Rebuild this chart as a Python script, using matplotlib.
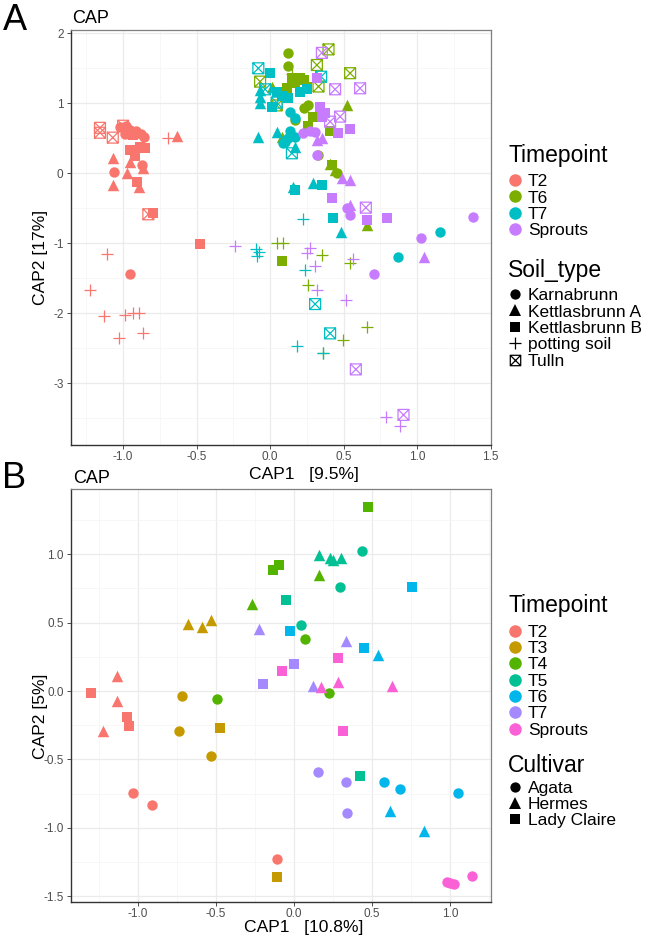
import matplotlib
matplotlib.use('Agg')
import matplotlib.pyplot as plt
from matplotlib.path import Path
from matplotlib.lines import Line2D
from matplotlib.ticker import MultipleLocator

plt.rcParams['font.family'] = ['Liberation Sans', 'DejaVu Sans']

# ---------------- Panel A data ----------------
A_timepoints = ['T2', 'T6', 'T7', 'Sprouts']
A_colors = ['#F8766D', '#7CAE00', '#00BFC4', '#C77CFF']
A_soils = ['Karnabrunn', 'Kettlasbrunn A', 'Kettlasbrunn B', 'potting soil', 'Tulln']

A_T2_Karnabrunn = [(-1.02, 0.66), (-0.98, 0.68), (-0.95, 0.62), (-0.91, 0.60), (-0.88, 0.56),
                   (-0.99, 0.56), (-0.86, 0.52), (-0.87, 0.12), (-1.06, 0.02), (-0.95, -1.44)]
A_T2_KettA = [(-1.066, 0.214), (-0.975, 0.0), (-1.066, -0.16), (-0.89, -0.19), (-0.866, 0.07),
              (-0.635, 0.53), (-0.952, 0.165)]
A_T2_KettB = [(-0.952, 0.333), (-0.85, 0.36), (-0.907, -0.12), (-0.794, -0.57), (-0.93, 0.547),
              (-0.884, 0.38), (-0.476, -1.01), (-0.92, 0.25)]
A_T2_potting = [(-0.692, 0.51), (-1.111, -1.157), (-1.224, -1.667), (-1.127, -2.034), (-0.986, -2.03),
                (-0.934, -1.99), (-0.889, -2.0), (-1.025, -2.35), (-0.866, -2.277)]
A_T2_Tulln = [(-1.157, 0.65), (-1.157, 0.58), (-1.07, 0.51), (-1.0, 0.68), (-0.828, -0.585)]

A_T6_Karnabrunn = [(0.12, 1.714), (0.12, 1.533), (0.261, 0.97), (0.17, 0.76), (0.325, 0.26),
                   (0.454, 0.0), (0.23, 0.93)]
A_T6_KettA = [(0.011, 1.24), (0.522, 0.97), (0.08, 0.52), (0.408, 0.14), (0.44, 0.05), (0.658, -0.74)]
A_T6_KettB = [(0.148, 1.357), (0.204, 1.357), (0.113, 1.214), (0.17, 1.29), (0.25, 1.24), (0.295, 0.81),
              (0.261, 0.67), (0.408, 0.6), (0.42, 0.12), (0.08, -1.25), (0.23, 1.33)]
A_T6_potting = [(0.15, 1.42), (0.05, -1.0), (0.09, -1.0), (0.352, -1.167), (0.544, -1.286),
                (0.26, -1.595), (0.658, -2.19), (0.499, -2.38), (0.358, -2.57)]
A_T6_Tulln = [(0.397, 1.77), (0.318, 1.547), (0.544, 1.43), (-0.068, 1.31), (0.329, 1.24), (0.045, 0.97)]

A_T7_Karnabrunn = [(0.136, 0.88), (0.17, 0.786), (0.102, 0.45), (0.136, 0.6), (0.17, 0.52),
                   (0.09, 0.43), (0.869, -1.19), (1.156, -0.843), (0.12, 0.5)]
A_T7_KettA = [(-0.068, 1.19), (-0.068, 1.095), (-0.068, 1.01), (-0.08, 0.52), (0.045, 0.595),
              (0.17, 0.38), (0.159, -0.19), (0.295, -0.14), (0.481, -0.834)]
A_T7_KettB = [(0.0, 1.43), (0.204, 1.167), (0.045, 1.167), (0.25, 1.2), (0.125, 1.07), (0.011, 0.95),
              (0.17, -0.24), (0.352, -0.166), (0.431, -0.634), (0.08, 1.1)]
A_T7_potting = [(0.222, -0.657), (-0.095, -1.086), (-0.073, -1.12), (-0.09, -1.18), (0.238, -1.38),
                (0.186, -2.46), (0.358, -2.56)]
A_T7_Tulln = [(-0.08, 1.5), (0.347, 1.38), (-0.034, 1.2), (0.045, 1.01), (0.148, 0.286),
              (0.306, -1.867), (0.408, -2.286)]

A_Sp_Karnabrunn = [(0.227, 0.57), (0.306, 0.595), (0.318, 0.26), (0.272, 0.61), (0.522, -0.5),
                   (0.544, -0.595), (1.379, -0.62), (1.025, -0.93), (0.708, -1.44)]
A_Sp_KettA = [(0.318, 0.476), (0.352, 0.5), (0.488, -0.07), (0.544, -0.095), (0.544, -0.45), (1.048, -1.2)]
A_Sp_KettB = [(0.34, 0.95), (0.374, 0.857), (0.465, 0.57), (0.544, 0.64), (0.352, 0.81), (0.318, 1.357),
              (0.42, -0.348), (0.658, -0.667), (0.794, -0.643)]
A_Sp_potting = [(-0.238, -1.04), (0.272, -1.07), (0.25, -1.14), (0.306, -1.33), (0.567, -1.22),
                (0.318, -1.67), (0.517, -1.81), (0.789, -3.48), (0.884, -3.61)]
A_Sp_Tulln = [(0.352, 1.72), (0.442, 1.2), (0.612, 1.214), (0.476, 0.81), (0.408, 0.738),
              (0.651, -0.49), (0.583, -2.8), (0.907, -3.45)]

# ---------------- Panel B data ----------------
B_timepoints = ['T2', 'T3', 'T4', 'T5', 'T6', 'T7', 'Sprouts']
B_colors = ['#F8766D', '#C49A00', '#53B400', '#00C094', '#00B6EB', '#A58AFF', '#FB61D7']
B_cultivars = ['Agata', 'Hermes', 'Lady Claire']

B_T2_Agata = [(-1.03, -0.744), (-0.908, -0.834), (-0.111, -1.229)]
B_T2_Hermes = [(-1.133, 0.11), (-1.137, -0.071), (-1.226, -0.293)]
B_T2_Lady = [(-1.303, -0.012), (-1.073, -0.193), (-1.056, -0.254)]
B_T3_Agata = [(-0.72, -0.037), (-0.737, -0.293), (-0.532, -0.475)]
B_T3_Hermes = [(-0.677, 0.49), (-0.592, 0.47), (-0.534, 0.52)]
B_T3_Lady = [(-0.474, -0.268), (-0.107, -1.363)]
B_T4_Agata = [(-0.496, -0.061), (0.07, 0.378), (0.226, -0.012)]
B_T4_Hermes = [(-0.271, 0.634), (0.162, 0.849)]
B_T4_Lady = [(-0.133, 0.885), (-0.10, 0.92), (0.476, 1.344)]
B_T5_Agata = [(0.434, 1.024), (0.295, 0.759), (0.043, 0.483)]
B_T5_Hermes = [(0.162, 0.995), (0.23, 0.975), (0.25, 0.96), (0.30, 0.975)]
B_T5_Lady = [(-0.053, 0.666), (0.423, -0.62)]
B_T6_Agata = [(0.579, -0.663), (0.679, -0.72), (1.053, -0.744)]
B_T6_Hermes = [(0.54, 0.263), (0.615, -0.878), (0.835, -1.022)]
B_T6_Lady = [(0.754, 0.763), (-0.026, 0.439), (0.449, 0.312)]
B_T7_Agata = [(0.156, -0.59), (0.331, -0.663), (0.338, -0.89)]
B_T7_Hermes = [(-0.222, 0.454), (0.331, 0.368), (0.12, 0.037)]
B_T7_Lady = [(0.0, 0.198), (-0.197, 0.049)]
B_Sp_Agata = [(0.979, -1.40), (1.0, -1.405), (1.026, -1.412), (1.139, -1.353)]
B_Sp_Hermes = [(0.171, 0.027), (0.284, 0.064), (0.63, 0.039)]
B_Sp_Lady = [(0.28, 0.244), (-0.079, 0.149), (0.316, -0.293)]

A_groups = {
    'T2': [A_T2_Karnabrunn, A_T2_KettA, A_T2_KettB, A_T2_potting, A_T2_Tulln],
    'T6': [A_T6_Karnabrunn, A_T6_KettA, A_T6_KettB, A_T6_potting, A_T6_Tulln],
    'T7': [A_T7_Karnabrunn, A_T7_KettA, A_T7_KettB, A_T7_potting, A_T7_Tulln],
    'Sprouts': [A_Sp_Karnabrunn, A_Sp_KettA, A_Sp_KettB, A_Sp_potting, A_Sp_Tulln],
}
B_groups = {
    'T2': [B_T2_Agata, B_T2_Hermes, B_T2_Lady],
    'T3': [B_T3_Agata, B_T3_Hermes, B_T3_Lady],
    'T4': [B_T4_Agata, B_T4_Hermes, B_T4_Lady],
    'T5': [B_T5_Agata, B_T5_Hermes, B_T5_Lady],
    'T6': [B_T6_Agata, B_T6_Hermes, B_T6_Lady],
    'T7': [B_T7_Agata, B_T7_Hermes, B_T7_Lady],
    'Sprouts': [B_Sp_Agata, B_Sp_Hermes, B_Sp_Lady],
}

# ---------------- styling ----------------
BOXX = Path([(-1, -1), (1, -1), (1, 1), (-1, 1), (-1, -1),
             (-1, -1), (1, 1), (-1, 1), (1, -1)],
            [Path.MOVETO, Path.LINETO, Path.LINETO, Path.LINETO, Path.CLOSEPOLY,
             Path.MOVETO, Path.LINETO, Path.MOVETO, Path.LINETO])
SHAPES = ['o', '^', 's', '+', BOXX]
SIZES = {'o': 56, '^': 68, 's': 52, '+': 86}
GRID = '#EBEBEB'


def draw_group(ax, pts, color, shape):
    xs = [p[0] for p in pts]
    ys = [p[1] for p in pts]
    if shape is BOXX:
        ax.scatter(xs, ys, s=62, marker=BOXX, facecolors='none', edgecolors=color,
                   linewidths=0.9, zorder=3)
    elif shape == '+':
        ax.scatter(xs, ys, s=SIZES['+'], marker='+', c=color, linewidths=0.9, zorder=3)
    else:
        ax.scatter(xs, ys, s=SIZES[shape], marker=shape, c=color, linewidths=0, zorder=3)


def style_axes(ax, major_x, major_y):
    ax.set_facecolor('white')
    ax.xaxis.set_major_locator(MultipleLocator(major_x))
    ax.xaxis.set_minor_locator(MultipleLocator(major_x / 2))
    ax.yaxis.set_major_locator(MultipleLocator(major_y))
    ax.yaxis.set_minor_locator(MultipleLocator(major_y / 2))
    ax.grid(which='major', color=GRID, linewidth=0.9, zorder=0)
    ax.grid(which='minor', color='#F4F4F4', linewidth=0.5, zorder=0)
    ax.set_axisbelow(True)
    ax.tick_params(which='major', direction='out', length=2.75, width=0.6, color='#333333',
                   labelsize=8.5, labelcolor='#4D4D4D')
    ax.tick_params(axis='x', pad=1.6)
    ax.tick_params(axis='y', pad=2.6)
    ax.tick_params(which='minor', length=0)
    for side in ['top', 'right']:
        ax.spines[side].set_color('#7F7F7F')
        ax.spines[side].set_linewidth(0.9)
    for side in ['left', 'bottom']:
        ax.spines[side].set_color('#333333')
        ax.spines[side].set_linewidth(1.0)


W, H = 645, 942
fig = plt.figure(figsize=(W / 100, H / 100), dpi=100)

# ---------------- Panel A ----------------
axA = fig.add_axes([71 / W, 1 - 445 / H, 419.7 / W, 415 / H])
for t, c in zip(A_timepoints, A_colors):
    for pts, shp in zip(A_groups[t], SHAPES):
        draw_group(axA, pts, c, shp)
axA.set_xlim(-1.354, 1.50)
axA.set_ylim(-3.88, 2.047)
style_axes(axA, 0.5, 1.0)
axA.set_xticks([-1.0, -0.5, 0.0, 0.5, 1.0, 1.5])
axA.set_xticklabels(['-1.0', '-0.5', '0.0', '0.5', '1.0', '1.5'])
axA.set_yticks([-3, -2, -1, 0, 1, 2])
axA.set_yticklabels(['-3', '-2', '-1', '0', '1', '2'])
axA.set_xlabel('CAP1   [9.5%]', fontsize=12.6)
axA.xaxis.set_label_coords(0.5544, -0.053)
axA.set_ylabel('CAP2 [17%]', fontsize=12.6)
axA.yaxis.set_label_coords(-0.055, 0.4518)
axA.text(0.002, 1.016, 'CAP', transform=axA.transAxes, fontsize=13, va='baseline', ha='left')

# ---------------- Panel B ----------------
axB = fig.add_axes([71 / W, 1 - 902.3 / H, 419.7 / W, 413.3 / H])
for t, c in zip(B_timepoints, B_colors):
    for pts, shp in zip(B_groups[t], SHAPES[:3]):
        draw_group(axB, pts, c, shp)
axB.set_xlim(-1.43, 1.26)
axB.set_ylim(-1.546, 1.478)
style_axes(axB, 0.5, 0.5)
axB.set_xticks([-1.0, -0.5, 0.0, 0.5, 1.0])
axB.set_xticklabels(['-1.0', '-0.5', '0.0', '0.5', '1.0'])
axB.set_yticks([-1.5, -1.0, -0.5, 0.0, 0.5, 1.0])
axB.set_yticklabels(['-1.5', '-1.0', '-0.5', '0.0', '0.5', '1.0'])
axB.set_xlabel('CAP1   [10.8%]', fontsize=12.6)
axB.xaxis.set_label_coords(0.5547, -0.0428)
axB.set_ylabel('CAP2 [5%]', fontsize=12.6)
axB.yaxis.set_label_coords(-0.055, 0.4512)
axB.text(0.004, 1.0138, 'CAP', transform=axB.transAxes, fontsize=13, va='baseline', ha='left')

# ---------------- panel letters ----------------
fig.text(3 / W, 1 - 30 / H, 'A', fontsize=26, va='baseline', ha='left')
fig.text(2 / W, 1 - 488.3 / H, 'B', fontsize=26, va='baseline', ha='left')


# ---------------- legends ----------------
def add_legend(title, title_base, labels, handles, top, spacing=0.05):
    fig.text(508 / W, 1 - title_base / H, title, fontsize=16.5, va='baseline', ha='left')
    leg = fig.legend(handles, labels, loc='upper left', bbox_to_anchor=(508 / W, 1 - top / H),
                     bbox_transform=fig.transFigure, frameon=False, borderpad=0, borderaxespad=0,
                     handlelength=0.8, handletextpad=0.35, labelspacing=spacing, fontsize=12.5)
    return leg


def circ(c):
    return Line2D([], [], marker='o', linestyle='', color=c, markersize=9, markeredgewidth=0)


def shape_handle(shp):
    if shp is BOXX:
        return Line2D([], [], marker=BOXX, linestyle='', markerfacecolor='none',
                      markeredgecolor='black', markersize=7.5, markeredgewidth=0.9)
    if shp == '+':
        return Line2D([], [], marker='+', linestyle='', color='black', markersize=9,
                      markeredgewidth=0.9)
    ms = {'o': 7.4, '^': 8.2, 's': 7.0}[shp]
    return Line2D([], [], marker=shp, linestyle='', color='black', markersize=ms, markeredgewidth=0)


add_legend('Timepoint', 162.3, A_timepoints, [circ(c) for c in A_colors], 174, 0.07)
add_legend('Soil_type', 276.5, A_soils, [shape_handle(s) for s in SHAPES], 288, 0.07)
add_legend('Timepoint', 611.7, B_timepoints, [circ(c) for c in B_colors], 624.5, 0.07)
add_legend('Cultivar', 771.7, B_cultivars, [shape_handle(s) for s in SHAPES[:3]], 780.5, 0.07)

fig.savefig('out.png', dpi=100, facecolor='white')
